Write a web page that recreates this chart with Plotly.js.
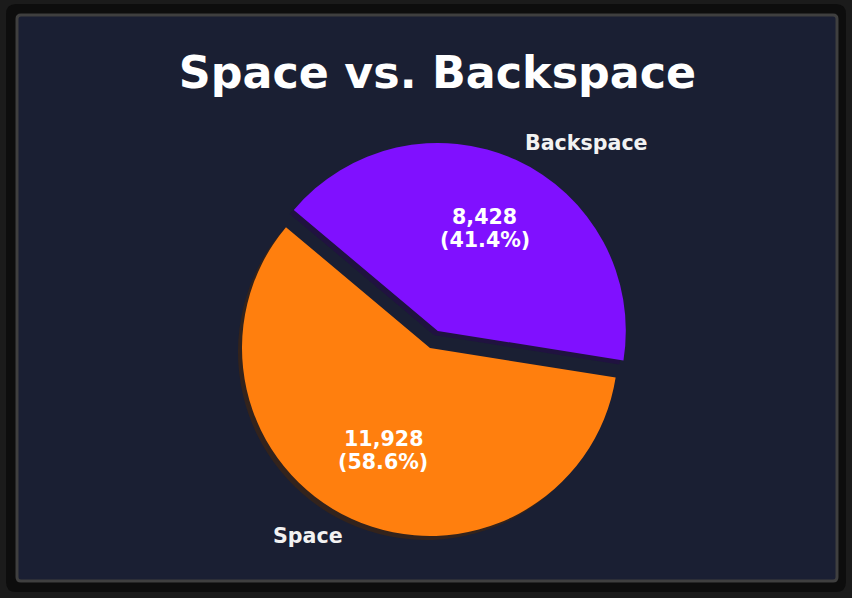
<!DOCTYPE html>
<html>
<head>
<meta charset="utf-8">
<script src="https://cdn.plot.ly/plotly-3.0.1.min.js"></script>
<style>html,body{margin:0;padding:0;background:#1b1b1b;}#chart{width:852px;height:598px;}</style>
</head>
<body>
<div id="chart"></div>
<script>
// ---- data ----
const labels = ['Space', 'Backspace'];
const values = [11928, 8428];
const sliceColors = ['#ff7f0e', '#8010ff'];
const shadowColors = ['#33231c', '#201240'];
const pulls = [0, 0.1];
const startAngle = 140; // degrees, counter-clockwise from 3 o'clock (first slice start)
const titleText = 'Space vs. Backspace';

// ---- geometry ----
const W = 852, H = 598;
const cx = 430, cy = 348, r = 188;
const maxPull = Math.max(...pulls);
const half = r * (1 + maxPull);
const fx = x => x / W;
const fy = y => 1 - y / H;

function domainAt(dx, dy) {
  return {x: [fx(cx - half + dx), fx(cx + half + dx)], y: [fy(cy + half + dy), fy(cy - half + dy)]};
}

const total = values.reduce((a, b) => a + b, 0);
// Plotly: direction clockwise, rotation = clockwise angle from 12 o'clock where the first slice starts.
const firstEnd = startAngle + values[0] / total * 360;
const rotation = (((90 - firstEnd) % 360) + 360) % 360;
const FONT = 'DejaVu Sans';
const LABEL_SIZE = 20.6;
const LINE_GAP = 11.5;

const shadow = {
  type: 'pie', labels: labels, values: values, sort: false, direction: 'clockwise',
  rotation: rotation, pull: pulls, marker: {colors: shadowColors, line: {width: 0}},
  textinfo: 'none', hoverinfo: 'skip', showlegend: false, domain: domainAt(-4, 4)
};
const pie = {
  type: 'pie', labels: labels, values: values, sort: false, direction: 'clockwise',
  rotation: rotation, pull: pulls, marker: {colors: sliceColors, line: {width: 0}},
  textinfo: 'none', hoverinfo: 'label+value+percent', showlegend: false, domain: domainAt(0, 0)
};

// annotations from data
const annotations = [];
let cum = 0;
values.forEach((v, i) => {
  const frac = v / total;
  const t1 = startAngle + cum * 360;
  const t2 = t1 + frac * 360;
  cum += frac;
  const mid = (t1 + t2) / 2 * Math.PI / 180;
  const c = Math.cos(mid), s = Math.sin(mid);
  const off = pulls[i] * r;
  const wx = cx + off * c, wy = cy - off * s;
  annotations.push({
    xref: 'paper', yref: 'paper', x: fx(wx + 1.1 * r * c), y: fy(wy - 1.1 * r * s),
    text: '<b>' + labels[i] + '</b>', showarrow: false, borderpad: 0,
    xanchor: c > 0 ? 'left' : 'right', yanchor: 'middle',
    font: {family: FONT, size: LABEL_SIZE, color: '#f2f2f2'}
  });
  const px = wx + 0.6 * r * c, py = wy - 0.6 * r * s;
  const lines = [v.toLocaleString('en-US'), '(' + (frac * 100).toFixed(1) + '%)'];
  lines.forEach((t, k) => {
    annotations.push({
      xref: 'paper', yref: 'paper', x: fx(px), y: fy(py + (k === 0 ? -LINE_GAP : LINE_GAP)),
      text: '<b>' + t + '</b>', showarrow: false, borderpad: 0,
      xanchor: 'center', yanchor: 'middle', align: 'center',
      font: {family: FONT, size: LABEL_SIZE, color: '#ffffff'}
    });
  });
});

function roundRect(x0, y0, x1, y1, rad) {
  const X = x => fx(x), Y = y => fy(y);
  return 'M' + X(x0 + rad) + ',' + Y(y0) + ' L' + X(x1 - rad) + ',' + Y(y0) +
    ' Q' + X(x1) + ',' + Y(y0) + ' ' + X(x1) + ',' + Y(y0 + rad) +
    ' L' + X(x1) + ',' + Y(y1 - rad) +
    ' Q' + X(x1) + ',' + Y(y1) + ' ' + X(x1 - rad) + ',' + Y(y1) +
    ' L' + X(x0 + rad) + ',' + Y(y1) +
    ' Q' + X(x0) + ',' + Y(y1) + ' ' + X(x0) + ',' + Y(y1 - rad) +
    ' L' + X(x0) + ',' + Y(y0 + rad) +
    ' Q' + X(x0) + ',' + Y(y0) + ' ' + X(x0 + rad) + ',' + Y(y0) + ' Z';
}

const shapes = [
  {type: 'path', xref: 'paper', yref: 'paper', layer: 'below', path: roundRect(6, 4, 846, 592, 10),
   fillcolor: '#0d0d0d', line: {width: 0}},
  {type: 'path', xref: 'paper', yref: 'paper', layer: 'below', path: roundRect(17, 15, 837, 581, 4),
   fillcolor: '#1a1f33', line: {color: '#3f3f3f', width: 3}}
];

const layout = {
  width: W, height: H,
  margin: {l: 0, r: 0, t: 0, b: 0},
  paper_bgcolor: '#1b1b1b', plot_bgcolor: '#1b1b1b',
  title: {text: '<b>' + titleText + '</b>', x: fx(437.5), xanchor: 'center', xref: 'paper',
          y: fy(72), yref: 'container', yanchor: 'middle',
          font: {family: FONT, size: 44.4, color: '#ffffff'}},
  shapes: shapes,
  annotations: annotations,
  showlegend: false
};

Plotly.newPlot('chart', [shadow, pie], layout, {displayModeBar: false, staticPlot: true});
</script>
</body>
</html>
